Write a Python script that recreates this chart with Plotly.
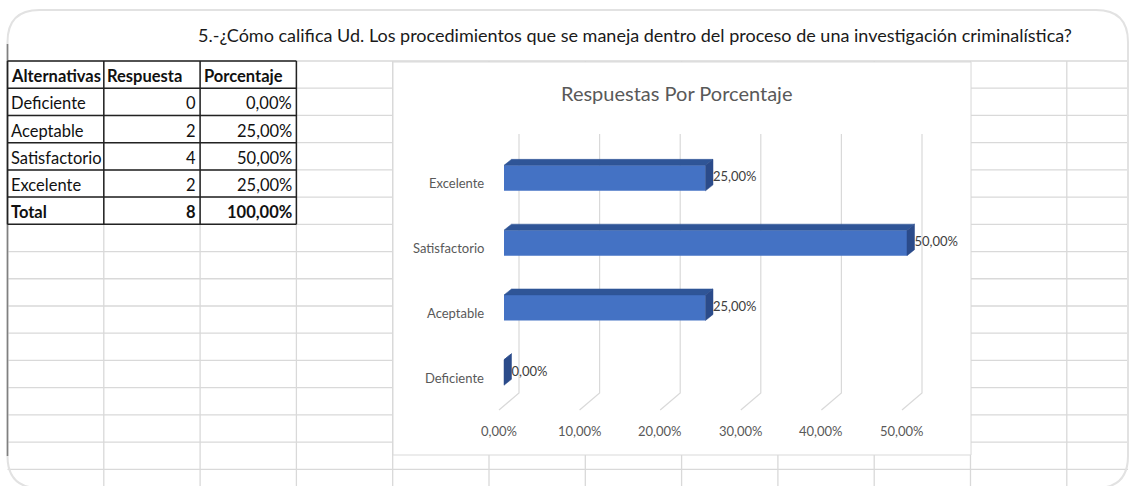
import plotly.graph_objects as go

# ---------------- data ----------------
alternativas = ["Deficiente", "Aceptable", "Satisfactorio", "Excelente"]
respuestas = [0, 2, 4, 2]
porcentajes = [0.0, 25.0, 50.0, 25.0]
total_respuestas = 8
total_porcentaje = 100.0
tick_vals = [0, 10, 20, 30, 40, 50]

pregunta = ("5.-¿Cómo califica Ud. Los procedimientos que se maneja dentro del "
            "proceso de una investigación criminalística?")
titulo_grafico = "Respuestas Por Porcentaje"
encabezados = ["Alternativas", "Respuesta", "Porcentaje"]
etiqueta_total = "Total"


def fmt_pct(v):
    return f"{v:.2f}".replace(".", ",") + "%"


# ---------------- canvas helpers (pixel -> paper) ----------------
W, H = 1130, 486


def px(x):
    return x / W


def py(y):
    return 1 - y / H


# sheet grid
ROW_TOP, ROW_H, N_ROWS = 61.0, 27.22, 16
COL_LEFT, COL_W = 7.5, 96.3
row_y = [ROW_TOP + ROW_H * k for k in range(N_ROWS)]
col_x = [COL_LEFT + COL_W * j for j in range(12)]

GRID_C = "#D9D9D9"
TEXT_FONT = "Lato, Open Sans, sans-serif"
CHART_FONT = "Lato, Roboto, sans-serif"

# chart geometry (pixel scale of the bar axes)
X0_PX, PX_PER_PCT = 504.0, 8.06
Y0_PX, PX_PER_CAT = 372.5, 64.8
DOM_X = (440, 965)
DOM_Y = (120, 445)


def yv(p):
    return (Y0_PX - p) / PX_PER_CAT


DX = 7.5 / PX_PER_PCT      # depth of the 3-D bars along x
DY = 6.0 / PX_PER_CAT      # depth of the 3-D bars along y
BAR_W = 25.5 / PX_PER_CAT
GRID_BACK = 15 / PX_PER_PCT
GRID_FRONT = 5 / PX_PER_PCT

idx = list(range(len(alternativas)))

fig = go.Figure()

# front faces
fig.add_trace(go.Bar(x=porcentajes, y=idx, orientation="h", width=BAR_W,
                     marker=dict(color="#4472C4", line=dict(width=0)),
                     showlegend=False, hoverinfo="skip"))

# top and side faces
for i, v in zip(idx, porcentajes):
    yt = i + BAR_W / 2
    yb = i - BAR_W / 2
    fig.add_trace(go.Scatter(
        x=[0, v, v + DX, DX, 0], y=[yt, yt, yt + DY, yt + DY, yt],
        fill="toself", fillcolor="#2F5597", mode="lines",
        line=dict(color="#2F5597", width=0.5),
        hoverinfo="skip", showlegend=False))
    fig.add_trace(go.Scatter(
        x=[v, v + DX, v + DX, v, v], y=[yb, yb + DY, yt + DY, yt, yb],
        fill="toself", fillcolor="#2B4B8A", mode="lines",
        line=dict(color="#2B4B8A", width=0.5),
        hoverinfo="skip", showlegend=False))

# value labels
fig.add_trace(go.Scatter(
    x=[v + DX for v in porcentajes], y=idx, mode="text",
    text=[fmt_pct(v) for v in porcentajes], textposition="middle right",
    textfont=dict(family=CHART_FONT, size=13, color="#404040"),
    hoverinfo="skip", showlegend=False, cliponaxis=False))

shapes = []

# sheet gridlines
for y in row_y:
    shapes.append(dict(type="line", xref="paper", yref="paper",
                       x0=px(COL_LEFT), x1=px(1128), y0=py(y), y1=py(y),
                       line=dict(color=GRID_C, width=1.3), layer="below"))
for x in col_x[1:]:
    if x > 1128:
        continue
    shapes.append(dict(type="line", xref="paper", yref="paper",
                       x0=px(x), x1=px(x), y0=py(ROW_TOP), y1=py(H),
                       line=dict(color=GRID_C, width=1.3), layer="below"))

# chart area
shapes.append(dict(type="rect", xref="paper", yref="paper",
                   x0=px(393), x1=px(971), y0=py(455), y1=py(62),
                   fillcolor="white", line=dict(color=GRID_C, width=1),
                   layer="below"))

# back-wall gridlines with the slanted floor segment (behind the bars)
for t in tick_vals:
    shapes.append(dict(
        type="path", xref="x", yref="y", layer="below",
        path=(f"M {t + GRID_BACK},{yv(134)} L {t + GRID_BACK},{yv(393)} "
              f"L {t - GRID_FRONT},{yv(410)}"),
        line=dict(color=GRID_C, width=1.2)))

# rounded card outline
r = 32


def P(x, y):
    return f"{px(x):.5f},{py(y):.5f}"


path = (f"M {P(COL_LEFT + r, H + 2)} Q {P(COL_LEFT, H + 2)} {P(COL_LEFT, H + 2 - r)} "
        f"L {P(COL_LEFT, 10 + r)} Q {P(COL_LEFT, 10)} {P(COL_LEFT + r, 10)} "
        f"L {P(1128 - r, 10)} Q {P(1128, 10)} {P(1128, 10 + r)} "
        f"L {P(1128, H + 2 - r)} Q {P(1128, H + 2)} {P(1128 - r, H + 2)}")
shapes.append(dict(type="path", xref="paper", yref="paper", path=path,
                   line=dict(color="#E2E2E2", width=2)))
shapes.append(dict(type="line", xref="paper", yref="paper",
                   x0=px(COL_LEFT), x1=px(COL_LEFT), y0=py(44), y1=py(H - r + 2),
                   line=dict(color="#808080", width=1.6)))

# table borders
n_tab_rows = len(alternativas) + 2
for k in range(n_tab_rows + 1):
    y = row_y[k]
    shapes.append(dict(type="line", xref="paper", yref="paper",
                       x0=px(col_x[0]), x1=px(col_x[3]), y0=py(y), y1=py(y),
                       line=dict(color="#222222", width=1.5)))
for j in range(4):
    shapes.append(dict(type="line", xref="paper", yref="paper",
                       x0=px(col_x[j]), x1=px(col_x[j]),
                       y0=py(row_y[0]), y1=py(row_y[n_tab_rows]),
                       line=dict(color="#222222", width=1.5)))

annotations = []


def cell_text(text, row, col, align, bold=False):
    yc = row_y[row] + ROW_H / 2 + 1.5
    if align == "left":
        x, anchor = col_x[col] + 1.5, "left"
    else:
        x, anchor = col_x[col + 1] - 2, "right"
    annotations.append(dict(
        text=text, xref="paper", yref="paper", x=px(x), y=py(yc),
        xanchor=anchor, yanchor="middle", showarrow=False,
        font=dict(family=TEXT_FONT, size=16.5, color="#111111",
                  weight="bold" if bold else "normal")))


for c, h in enumerate(encabezados):
    cell_text(h, 0, c, "left", bold=True)
for r_i, (a, n, p) in enumerate(zip(alternativas, respuestas, porcentajes), start=1):
    cell_text(a, r_i, 0, "left")
    cell_text(str(n), r_i, 1, "right")
    cell_text(fmt_pct(p), r_i, 2, "right")
last = len(alternativas) + 1
cell_text(etiqueta_total, last, 0, "left", bold=True)
cell_text(str(total_respuestas), last, 1, "right", bold=True)
cell_text(fmt_pct(total_porcentaje), last, 2, "right", bold=True)

# sheet heading
annotations.append(dict(text=pregunta, xref="paper", yref="paper",
                        x=px(634.5), y=py(35), xanchor="center", yanchor="middle",
                        showarrow=False,
                        font=dict(family=TEXT_FONT, size=18, color="#1A1A1A")))

# chart title
annotations.append(dict(text=titulo_grafico, xref="paper", yref="paper",
                        x=px(676), y=py(93), xanchor="center", yanchor="middle",
                        showarrow=False,
                        font=dict(family=CHART_FONT, size=20, color="#595959")))

# category labels
for i, a in zip(idx, alternativas):
    annotations.append(dict(text=a, xref="paper", yref="y", x=px(486), y=i,
                            yshift=-5, xanchor="right", yanchor="middle",
                            showarrow=False,
                            font=dict(family=CHART_FONT, size=13, color="#595959")))

# value axis labels
for t in tick_vals:
    annotations.append(dict(text=fmt_pct(t), xref="x", yref="paper", x=t,
                            xshift=-5, y=py(431), xanchor="center",
                            yanchor="middle", showarrow=False,
                            font=dict(family=CHART_FONT, size=13, color="#595959")))

fig.update_layout(
    width=W, height=H,
    margin=dict(l=0, r=0, t=0, b=0),
    paper_bgcolor="white", plot_bgcolor="rgba(0,0,0,0)",
    showlegend=False, barmode="overlay",
    xaxis=dict(domain=[px(DOM_X[0]), px(DOM_X[1])],
               range=[(DOM_X[0] - X0_PX) / PX_PER_PCT, (DOM_X[1] - X0_PX) / PX_PER_PCT],
               visible=False, fixedrange=True),
    yaxis=dict(domain=[py(DOM_Y[1]), py(DOM_Y[0])],
               range=[yv(DOM_Y[1]), yv(DOM_Y[0])],
               visible=False, fixedrange=True),
    shapes=shapes, annotations=annotations,
)

fig.write_html("out.html", config={"displayModeBar": False})
